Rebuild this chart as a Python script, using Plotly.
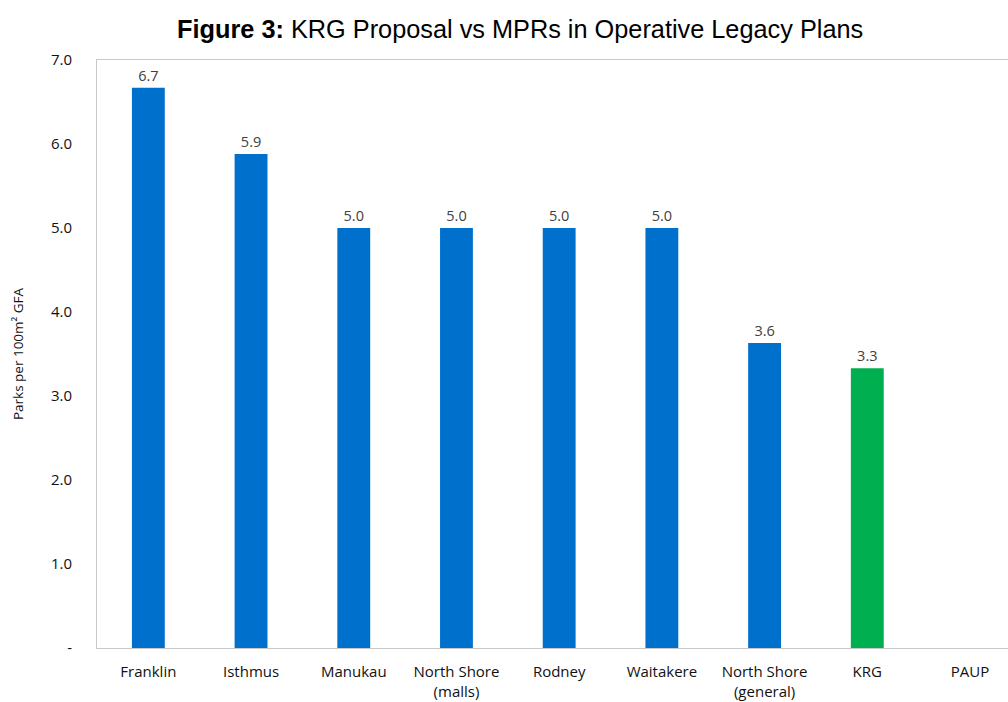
import plotly.graph_objects as go

# Minimum parking rates by plan (parks per 100m² GFA)
categories = ["Franklin", "Isthmus", "Manukau", "North Shore<br>(malls)", "Rodney",
              "Waitakere", "North Shore<br>(general)", "KRG", "PAUP"]
values = [6.67, 5.88, 5.0, 5.0, 5.0, 5.0, 3.63, 3.33, None]
bar_colors = ["#0070CD"] * 7 + ["#00B050", "#0070CD"]

y_ticks = [0, 1, 2, 3, 4, 5, 6, 7]
y_tick_text = ["-", "1.0", "2.0", "3.0", "4.0", "5.0", "6.0", "7.0"]

label_font = "Open Sans, Noto Sans, sans-serif"

fig = go.Figure(
    go.Bar(
        x=categories,
        y=values,
        marker=dict(color=bar_colors, line=dict(width=0)),
        width=0.32,
        texttemplate="%{y:.1f}",
        textposition="outside",
        textfont=dict(family=label_font, size=14.5, color="#404040"),
        cliponaxis=False,
    )
)

fig.update_layout(
    width=1008,
    height=702,
    margin=dict(l=97, r=0, t=60, b=54),
    paper_bgcolor="white",
    plot_bgcolor="white",
    showlegend=False,
    title=dict(
        text="<b>Figure 3:</b> KRG Proposal vs MPRs in Operative Legacy Plans",
        font=dict(family="Liberation Sans, Arial, sans-serif", size=25.3, color="black"),
        x=0.516,
        xanchor="center",
        y=0.958,
        yanchor="middle",
    ),
    xaxis=dict(
        range=[-0.5, 8.37],
        showline=True,
        linecolor="#C8C8C8",
        linewidth=1,
        mirror=True,
        showgrid=False,
        ticks="",
        tickfont=dict(family=label_font, size=15, color="#111111"),
        ticklabelstandoff=10,
    ),
    yaxis=dict(
        range=[0, 7],
        tickvals=y_ticks,
        ticktext=y_tick_text,
        showline=True,
        linecolor="#C8C8C8",
        linewidth=1,
        showgrid=False,
        zeroline=False,
        ticks="",
        tickfont=dict(family=label_font, size=15, color="#111111"),
        ticklabelstandoff=21,
        title=dict(
            text="Parks per 100m² GFA",
            font=dict(family=label_font, size=13.5, color="#111111"),
            standoff=24,
        ),
    ),
)

fig.write_html("out.html")
